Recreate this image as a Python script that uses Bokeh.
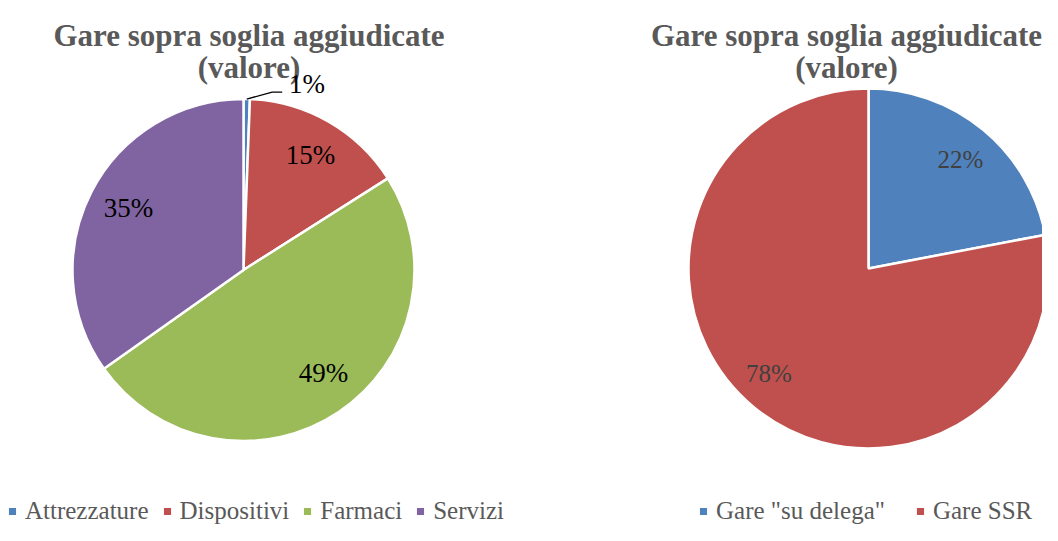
import numpy as np
from bokeh.plotting import figure
from bokeh.models import ColumnDataSource, Range1d
from bokeh.layouts import row
from bokeh.core.properties import value
from bokeh.embed import file_html
from bokeh.resources import INLINE

# ---- data ----
title_lines = ["Gare sopra soglia aggiudicate", "(valore)"]

cats1 = ["Attrezzature", "Dispositivi", "Farmaci", "Servizi"]
vals1 = [0.6, 15.4, 49.2, 34.8]
labels1 = ["1%", "15%", "49%", "35%"]
colors1 = ["#4F81BD", "#C0504D", "#9BBB59", "#8064A2"]

cats2 = ['Gare "su delega"', "Gare SSR"]
vals2 = [22, 78]
labels2 = ["22%", "78%"]
colors2 = ["#4F81BD", "#C0504D"]

# ---- layout ----
W1, W2, H = 530, 512, 525
FONT = "Liberation Serif"
TITLE_COLOR = "#595959"

def make_fig(w):
    p = figure(width=w, height=H, x_range=Range1d(0, w), y_range=Range1d(0, H),
               output_backend="svg", toolbar_location=None,
               x_axis_type=None, y_axis_type=None, min_border=0,
               outline_line_color=None)
    p.grid.visible = False
    p.background_fill_color = "white"
    p.border_fill_color = "white"
    return p

def add_title(p, cx):
    for i, t in enumerate(title_lines):
        p.text(x=[cx], y=[H - 35 - 32 * i], text=[t], text_align="center",
               text_baseline="alphabetic", text_font=value(FONT),
               text_font_size="31px", text_font_style="bold", text_color=TITLE_COLOR)

def add_pie(p, cats, vals, colors, cx, cy, r):
    v = np.array(vals, dtype=float)
    frac = v / v.sum()
    cum = np.concatenate([[0.0], np.cumsum(frac)])
    start = np.pi / 2 - 2 * np.pi * cum[:-1]
    end = np.pi / 2 - 2 * np.pi * cum[1:]
    mid = (start + end) / 2
    src = ColumnDataSource(dict(cat=cats, start=start, end=end, color=colors))
    p.wedge(x=cx, y=cy, radius=r, start_angle="start", end_angle="end",
            direction="clock", fill_color="color", line_color="white",
            line_width=2.5, legend_field="cat", source=src)
    return mid

def add_labels(p, labels, cx, cy, offsets, size, color):
    xs = [cx + dx for dx, dy in offsets]
    ys = [cy + dy for dx, dy in offsets]
    p.text(x=xs, y=ys, text=labels, text_align="center", text_baseline="middle",
           text_font=value(FONT), text_font_size=size, text_color=color)

def style_legend(p, loc, spacing):
    lg = p.legend[0]
    lg.orientation = "horizontal"
    lg.location = loc
    lg.padding = 0
    lg.margin = 0
    lg.spacing = spacing
    lg.glyph_width = 12
    lg.glyph_height = 12
    lg.label_standoff = 7
    lg.label_text_font = FONT
    lg.label_text_font_size = "25px"
    lg.label_text_color = "#595959"
    lg.border_line_color = None
    lg.background_fill_alpha = 0
    lg.label_height = 20

# ---- left chart ----
p1 = make_fig(W1)
cx1, cy1, r1 = 243, H - 269.5, 171
add_title(p1, 248.5)
mid1 = add_pie(p1, cats1, vals1, colors1, cx1, cy1, r1)
add_labels(p1, labels1, cx1, cy1,
           [(63.5, 186), (67, 115.5), (80, -102.5), (-115, 62.5)], "27px", "black")
# leader line for the tiny slice
ex, ey = cx1 + r1 * np.cos(mid1[0]), cy1 + r1 * np.sin(mid1[0])
p1.line(x=[ex, cx1 + 28.7, cx1 + 38.7], y=[ey, cy1 + 177.8, cy1 + 177.8],
        line_color="black", line_width=1.3)
style_legend(p1, (6, 0), 12)

# ---- right chart ----
p2 = make_fig(W2)
cx2, cy2, r2 = 338, H - 268, 180
add_title(p2, 316)
add_pie(p2, cats2, vals2, colors2, cx2, cy2, r2)
add_labels(p2, labels2, cx2, cy2, [(92, 109), (-99.5, -105)], "25px", "#404040")
style_legend(p2, (167, 0), 29)

layout = row(p1, p2)
open("out.html", "w").write(file_html(layout, INLINE))
